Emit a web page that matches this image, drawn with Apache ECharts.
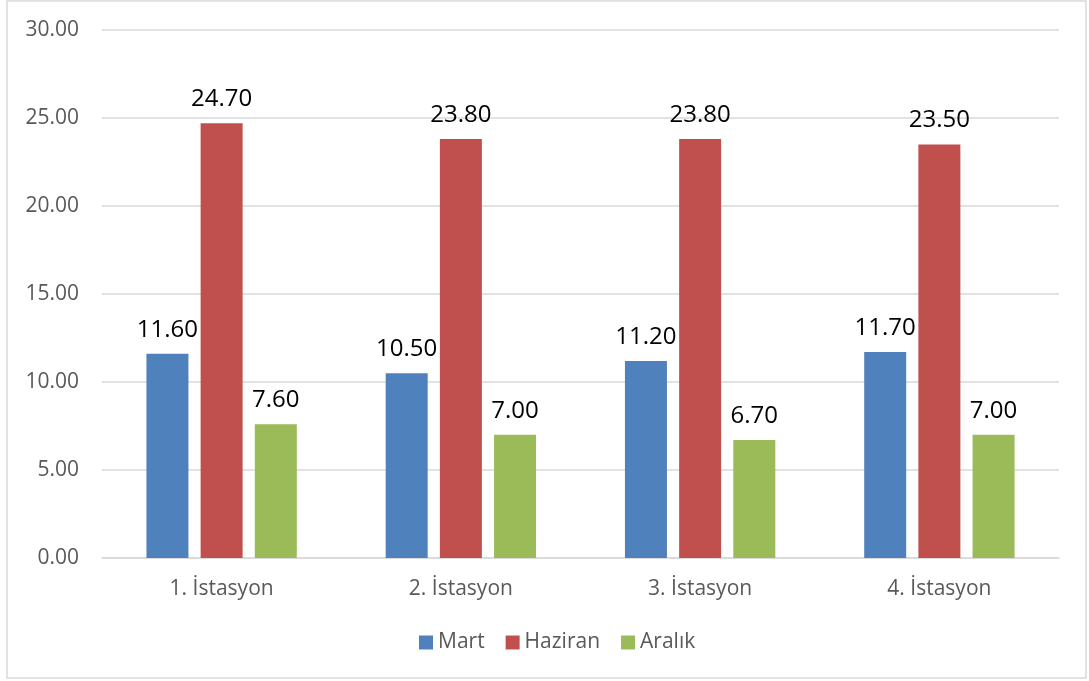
<!DOCTYPE html>
<html>
<head>
<meta charset="utf-8">
<script src="https://cdn.jsdelivr.net/npm/echarts@6/dist/echarts.min.js"></script>
<style>
  html, body { margin: 0; padding: 0; background: #fff; }
  #main { width: 1089px; height: 681px; }
</style>
</head>
<body>
<div id="main"></div>
<script>
var categories = ['1. İstasyon', '2. İstasyon', '3. İstasyon', '4. İstasyon'];
var mart = [11.6, 10.5, 11.2, 11.7];
var haziran = [24.7, 23.8, 23.8, 23.5];
var aralik = [7.6, 7.0, 6.7, 7.0];

var fontFam = '"Open Sans", "Noto Sans", sans-serif';

var myChart = echarts.init(document.getElementById('main'));

function barSeries(name, data, color) {
  return {
    name: name,
    type: 'bar',
    data: data,
    barWidth: 42,
    barGap: '29%',
    itemStyle: { color: color },
    label: {
      show: true,
      position: 'top',
      distance: 12,
      color: '#000',
      fontSize: 24,
      fontFamily: fontFam,
      formatter: function (p) { return p.value.toFixed(2); }
    }
  };
}

myChart.setOption({
  animation: false,
  textStyle: { fontFamily: fontFam },
  graphic: [{
    type: 'rect',
    shape: { x: 7, y: 1, width: 1079, height: 677 },
    style: { fill: 'none', stroke: '#d9d9d9', lineWidth: 1.5 }
  }],
  grid: { left: 102, right: 30, top: 30, bottom: 123 },
  legend: {
    bottom: 23,
    left: 414,
    itemWidth: 14,
    itemHeight: 14,
    itemGap: 21,
    icon: 'rect',
    textStyle: { color: '#595959', fontSize: 21, fontFamily: fontFam }
  },
  xAxis: {
    type: 'category',
    data: categories,
    axisLine: { lineStyle: { color: '#d9d9d9', width: 1.5 } },
    axisTick: { show: false },
    axisLabel: { color: '#595959', fontSize: 21, margin: 21, fontFamily: fontFam }
  },
  yAxis: {
    type: 'value',
    min: 0,
    max: 30,
    interval: 5,
    axisLine: { show: false },
    axisTick: { show: false },
    splitLine: { lineStyle: { color: '#d9d9d9', width: 1.5 } },
    axisLabel: {
      color: '#595959', fontSize: 21, margin: 23, fontFamily: fontFam,
      formatter: function (v) { return v.toFixed(2); }
    }
  },
  series: [
    barSeries('Mart', mart, '#4f81bd'),
    barSeries('Haziran', haziran, '#c0504d'),
    barSeries('Aralık', aralik, '#9bbb59')
  ]
});

window.addEventListener('resize', function () { myChart.resize(); });
</script>
</body>
</html>
